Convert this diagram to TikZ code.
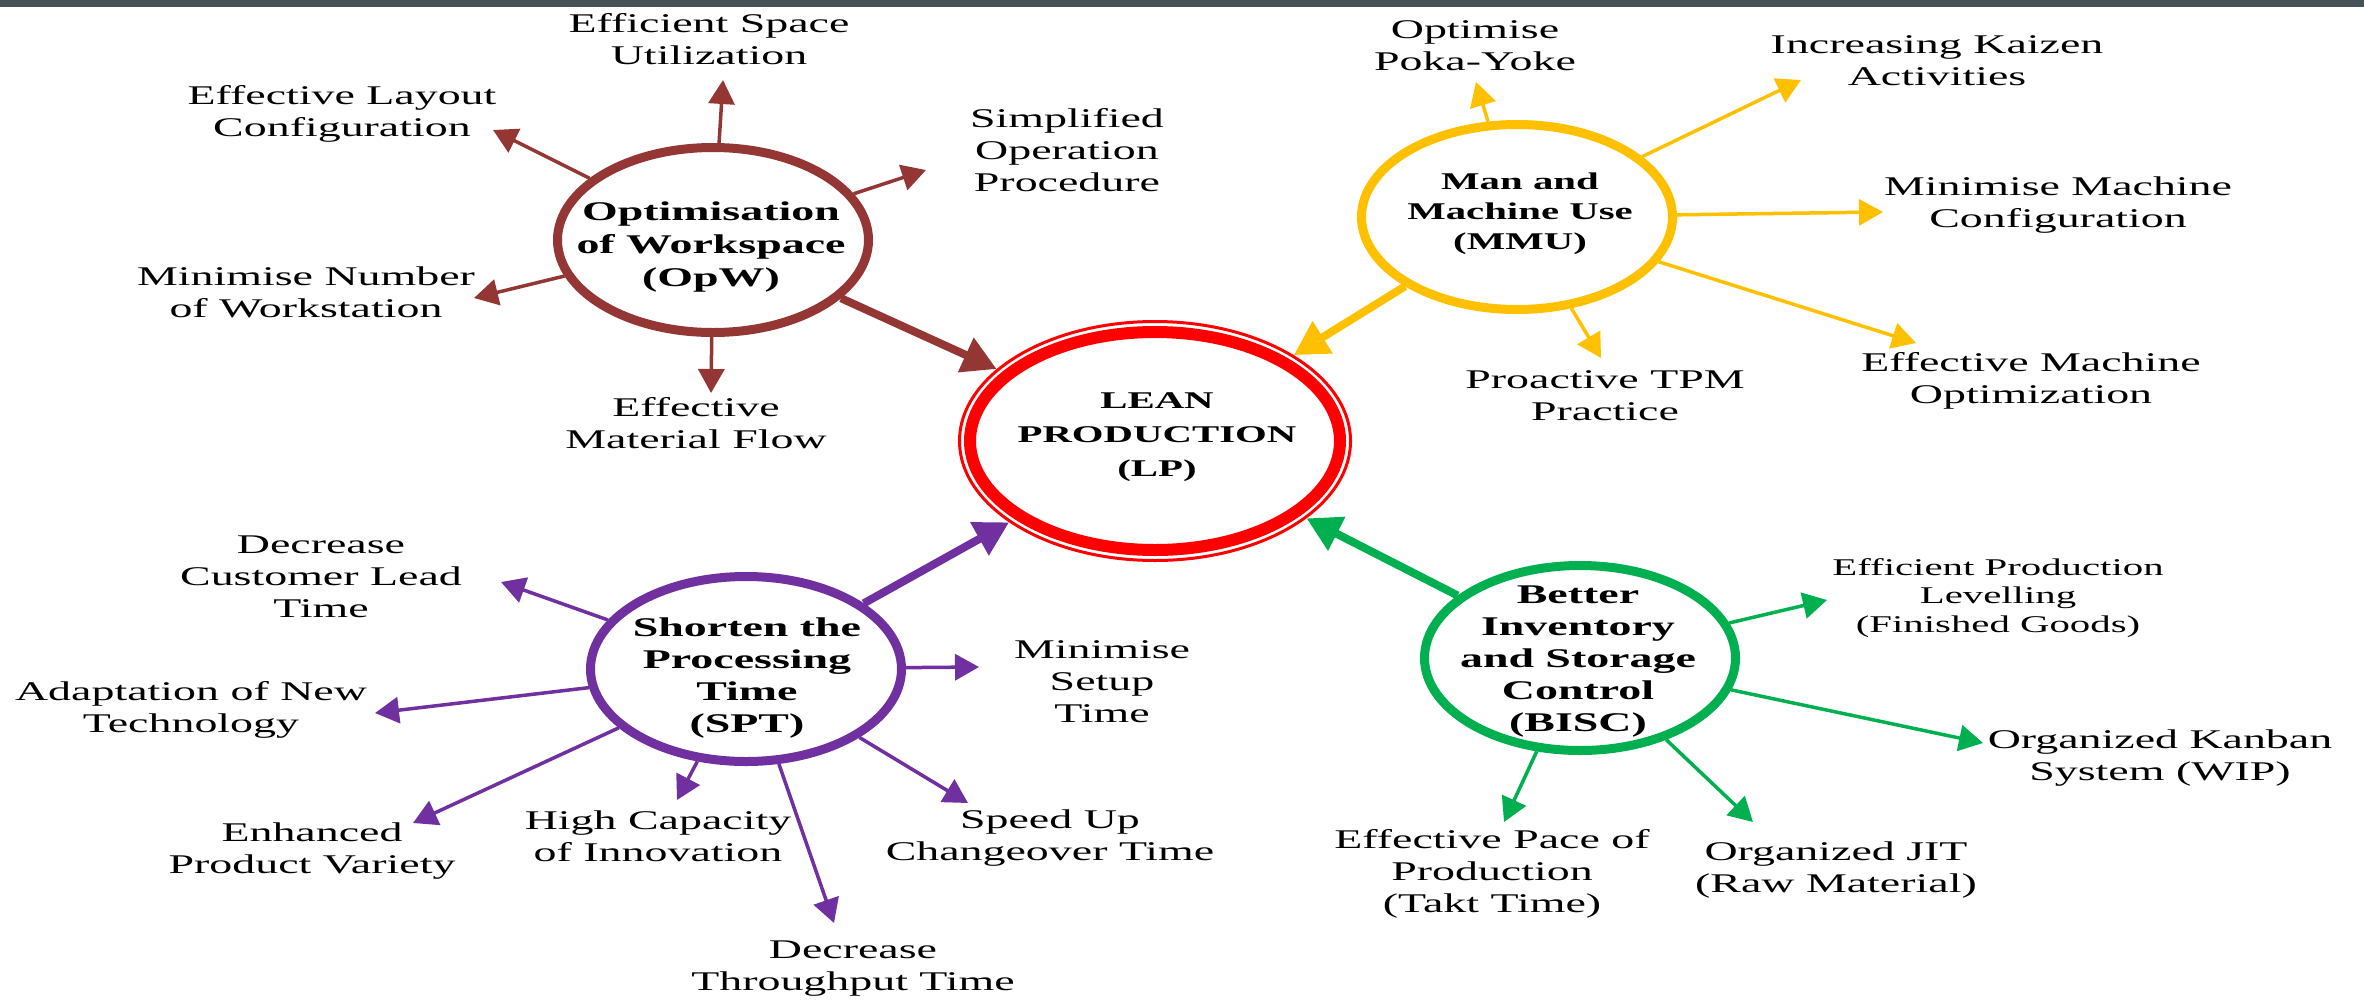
\documentclass[tikz,border=0pt]{standalone}
\usepackage{fontspec}
\setmainfont{Liberation Serif}[FakeStretch=1.7]
\usetikzlibrary{arrows.meta,shapes.geometric}

\definecolor{opwbrown}{HTML}{943634}
\definecolor{mmuyellow}{HTML}{FFC000}
\definecolor{sptpurple}{HTML}{7030A0}
\definecolor{biscgreen}{HTML}{00B050}
\definecolor{lpred}{HTML}{FF0000}
\definecolor{topbar}{HTML}{455358}

\tikzset{
  hub/.style={ellipse, draw=#1, line width=9pt, fill=white,
    minimum width=311pt, minimum height=185pt, inner sep=0pt},
  hubtext/.style={align=center, font=\fontsize{27}{33}\selectfont\bfseries},
  sat/.style={align=center, font=\fontsize{27}{32}\selectfont},
  smallsat/.style={align=center, font=\fontsize{24}{28.5}\selectfont},
  arr/.style={draw=#1, line width=3.5pt, -{Triangle[length=24pt,width=26pt]}},
  bigarr/.style={draw=#1, line width=8pt, -{Triangle[length=34pt,width=36pt]}},
}

\begin{document}
\begin{tikzpicture}[x=1pt, y=-1pt]
    \fill[white] (0,0) rectangle (2364,999);
    \useasboundingbox (0,0) rectangle (2364,999);
    \fill[topbar] (0,0) rectangle (2364,7);

    \coordinate (lpc) at (1155, 441);
    \coordinate (opwc) at (713, 240);
    \coordinate (mmuc) at (1517, 217);
    \coordinate (sptc) at (746, 669);
    \coordinate (biscc) at (1580, 658);

    % centre
    \node[ellipse, draw=lpred, line width=12pt, fill=white, inner sep=0pt,
      minimum width=370pt, minimum height=218pt, outer sep=12pt] (LP) at (lpc) {};
    \draw[lpred, line width=3pt] (lpc) ellipse [x radius=195.5, y radius=119.5];
    \node[align=center, font=\fontsize{24}{34}\selectfont\bfseries] (LPtext) at (1157, 437)
      {LEAN\\PRODUCTION\\(LP)};

    % hubs
    \node[hub=opwbrown] (OpW) at (opwc) {};
    \node[hub=mmuyellow] (MMU) at (mmuc) {};
    \node[hub=sptpurple] (SPT) at (sptc) {};
    \node[hub=biscgreen] (BISC) at (biscc) {};

    \node[hubtext] (OpWtext) at (711, 247) {Optimisation\\of Workspace\\(OpW)};
    \node[hubtext, font=\fontsize{24}{30}\selectfont\bfseries] (MMUtext) at (1520, 214)
      {Man and\\Machine Use\\(MMU)};
    \node[hubtext, font=\fontsize{27}{32}\selectfont\bfseries] (SPTtext) at (747, 678)
      {Shorten the\\Processing\\Time\\(SPT)};
    \node[hubtext, font=\fontsize{27}{32}\selectfont\bfseries] (BISCtext) at (1578, 662)
      {Better\\Inventory\\and Storage\\Control\\(BISC)};

    \draw[bigarr=opwbrown] (OpW) -- (LP);
    \draw[bigarr=mmuyellow] (MMU) -- (LP);
    \draw[bigarr=sptpurple] (SPT) -- (LP);
    \draw[bigarr=biscgreen] (BISC) -- (LP);

    % OpW
    \coordinate (esutip) at (723, 80);
    \coordinate (elctip) at (493, 130);
    \coordinate (soptip) at (926, 170);
    \coordinate (mnwtip) at (474, 298);
    \coordinate (emftip) at (711, 393);
    \node[sat] (esu) at (709, 39) {Efficient Space\\Utilization};
    \node[sat] (elc) at (342, 114) {Effective Layout\\Configuration};
    \node[sat] (sop) at (1067, 150) {Simplified\\Operation\\Procedure};
    \node[sat] (mnw) at (306, 292) {Minimise Number\\of Workstation};
    \node[sat] (emf) at (696, 423) {Effective\\Material Flow};
    \draw[arr=opwbrown] (OpW) -- (esutip);
    \draw[arr=opwbrown] (OpW) -- (elctip);
    \draw[arr=opwbrown] (OpW) -- (soptip);
    \draw[arr=opwbrown] (OpW) -- (mnwtip);
    \draw[arr=opwbrown] (OpW) -- (emftip);

    % MMU
    \coordinate (opytip) at (1476, 82);
    \coordinate (ikatip) at (1801, 80);
    \coordinate (mmctip) at (1883, 212);
    \coordinate (emotip) at (1916, 343);
    \coordinate (tpmtip) at (1601, 358);
    \node[sat] (opy) at (1475, 46) {Optimise\\Poka-Yoke};
    \node[sat] (ika) at (1937, 61) {Increasing Kaizen\\Activities};
    \node[sat] (mmc) at (2058, 205) {Minimise Machine\\Configuration};
    \node[sat] (emo) at (2031, 381) {Effective Machine\\Optimization};
    \node[sat] (tpm) at (1605, 396) {Proactive TPM\\Practice};
    \draw[arr=mmuyellow] (MMU) -- (opytip);
    \draw[arr=mmuyellow] (MMU) -- (ikatip);
    \draw[arr=mmuyellow] (MMU) -- (mmctip);
    \draw[arr=mmuyellow] (MMU) -- (emotip);
    \draw[arr=mmuyellow] (MMU) -- (tpmtip);

    % SPT
    \coordinate (dcltip) at (501, 582);
    \coordinate (anttip) at (375, 713);
    \coordinate (msttip) at (979, 667);
    \coordinate (epvtip) at (413, 823);
    \coordinate (hcitip) at (677, 800);
    \coordinate (dtttip) at (834, 923);
    \coordinate (suctip) at (968, 803);
    \node[sat] (dcl) at (321, 577) {Decrease\\Customer Lead\\Time};
    \node[sat] (ant) at (191, 710) {Adaptation of New\\Technology};
    \node[sat] (mst) at (1102, 682) {Minimise\\Setup\\Time};
    \node[sat] (epv) at (312, 851) {Enhanced\\Product Variety};
    \node[sat] (hci) at (658, 836) {High Capacity\\of Innovation};
    \node[sat] (dtt) at (853, 969) {Decrease\\Throughput Time};
    \node[sat] (suc) at (1050, 838) {Speed Up\\Changeover Time};
    \draw[arr=sptpurple] (SPT) -- (dcltip);
    \draw[arr=sptpurple] (SPT) -- (anttip);
    \draw[arr=sptpurple] (SPT) -- (msttip);
    \draw[arr=sptpurple] (SPT) -- (epvtip);
    \draw[arr=sptpurple] (SPT) -- (hcitip);
    \draw[arr=sptpurple] (SPT) -- (dtttip);
    \draw[arr=sptpurple] (SPT) -- (suctip);

    % BISC
    \coordinate (epltip) at (1827, 600);
    \coordinate (okwtip) at (1983, 743);
    \coordinate (epttip) at (1504, 822);
    \coordinate (jittip) at (1753, 822);
    \node[smallsat] (epl) at (1998, 598) {Efficient Production\\Levelling\\(Finished Goods)};
    \node[sat] (okw) at (2160, 758) {Organized Kanban\\System (WIP)};
    \node[sat] (ept) at (1492, 874) {Effective Pace of\\Production\\(Takt Time)};
    \node[sat] (jit) at (1836, 870) {Organized JIT\\(Raw Material)};
    \draw[arr=biscgreen] (BISC) -- (epltip);
    \draw[arr=biscgreen] (BISC) -- (okwtip);
    \draw[arr=biscgreen] (BISC) -- (epttip);
    \draw[arr=biscgreen] (BISC) -- (jittip);
\end{tikzpicture}
\end{document}
